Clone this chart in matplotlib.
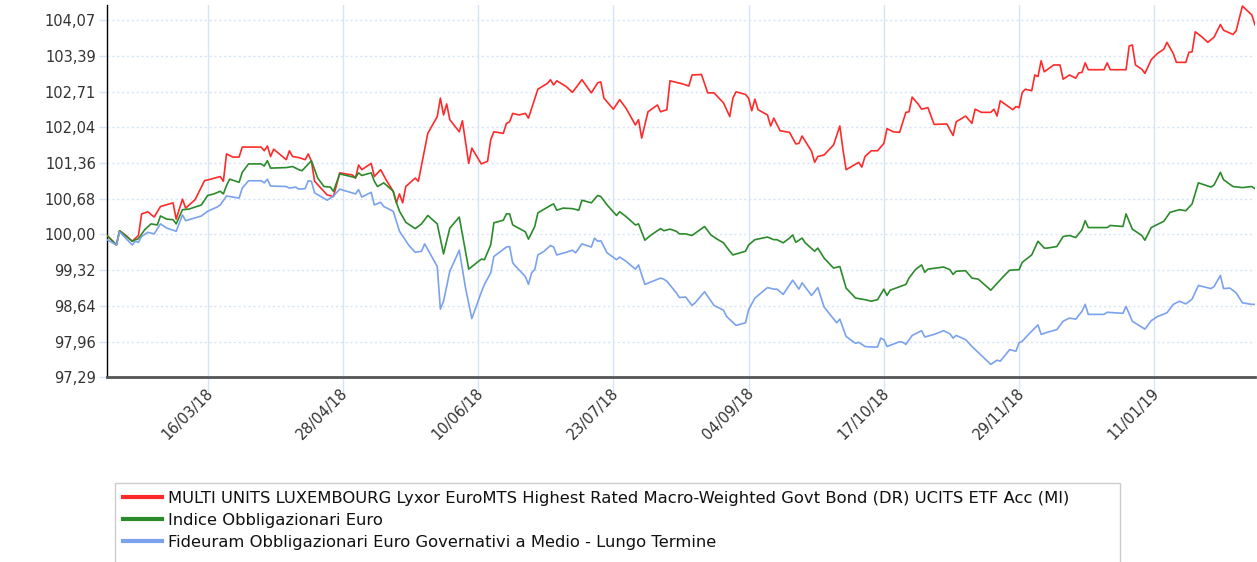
import pandas as pd
import matplotlib
matplotlib.use("Agg")
import matplotlib.pyplot as plt
import matplotlib.transforms as mtransforms
from matplotlib.lines import Line2D
from matplotlib.patches import Rectangle

start = pd.Timestamp("2018-02-12")
end = pd.Timestamp("2019-02-12")

labels = [
    "MULTI UNITS LUXEMBOURG Lyxor EuroMTS Highest Rated Macro-Weighted Govt Bond (DR) UCITS ETF Acc (MI)",
    "Indice Obbligazionari Euro",
    "Fideuram Obbligazionari Euro Governativi a Medio - Lungo Termine",
]
colors = ["#ff2a2a", "#2b8a2b", "#7aa2ee"]

# days from 12/02/2018
red_days = [0, 3, 4, 6, 8, 10, 11, 13, 15, 17,
            21, 22, 24, 25, 28, 31, 33, 36, 37, 38,
            40, 42, 43, 49, 50, 51, 52, 53, 57, 58,
            59, 61, 63, 64, 65, 66, 70, 72, 74, 78,
            79, 80, 81, 84, 85, 87, 89, 91, 92, 93,
            94, 95, 98, 99, 102, 105, 106, 107, 108, 109,
            112, 113, 115, 116, 119, 121, 122, 123, 126, 127,
            128, 129, 131, 133, 134, 137, 140, 141, 142, 143,
            146, 148, 151, 154, 156, 157, 158, 161, 163, 165,
            168, 169, 170, 172, 175, 176, 178, 179, 181, 183,
            185, 186, 189, 191, 193, 196, 197, 198, 199, 200,
            203, 204, 205, 206, 207, 210, 211, 212, 214, 217,
            219, 220, 221, 224, 225, 226, 228, 231, 233, 234,
            235, 239, 240, 241, 243, 245, 247, 248, 250, 252,
            254, 255, 256, 258, 259, 261, 263, 267, 269, 270,
            273, 275, 276, 278, 281, 282, 283, 284, 288, 289,
            290, 291, 292, 294, 295, 296, 297, 298, 301, 303,
            304, 306, 308, 309, 310, 311, 312, 317, 318, 319,
            324, 325, 326, 327, 329, 330, 332, 334, 336, 337,
            339, 340, 343, 344, 345, 346, 348, 350, 352, 354,
            355, 358, 359, 361, 364, 365]
red_vals = [99.98, 99.80, 100.07, 99.98, 99.87, 99.98, 100.39, 100.43, 100.33, 100.53,
            100.60, 100.29, 100.67, 100.50, 100.66, 101.02, 101.05, 101.10, 101.01, 101.53,
            101.47, 101.47, 101.66, 101.66, 101.59, 101.68, 101.48, 101.62, 101.42, 101.59,
            101.48, 101.46, 101.42, 101.53, 101.39, 101.01, 100.75, 100.72, 101.17, 101.13,
            101.07, 101.32, 101.23, 101.35, 101.10, 101.23, 101.01, 100.82, 100.60, 100.77,
            100.60, 100.91, 101.07, 101.01, 101.92, 102.24, 102.59, 102.27, 102.48, 102.18,
            101.95, 102.16, 101.35, 101.64, 101.34, 101.39, 101.80, 101.95, 101.92, 102.11,
            102.14, 102.30, 102.27, 102.30, 102.21, 102.76, 102.87, 102.94, 102.84, 102.92,
            102.81, 102.70, 102.94, 102.69, 102.88, 102.90, 102.59, 102.38, 102.56, 102.40,
            102.08, 102.18, 101.83, 102.33, 102.46, 102.33, 102.37, 102.92, 102.89, 102.86,
            102.82, 103.03, 103.04, 102.69, 102.69, 102.50, 102.37, 102.24, 102.59, 102.71,
            102.66, 102.59, 102.35, 102.57, 102.37, 102.27, 102.06, 102.21, 101.97, 101.94,
            101.72, 101.73, 101.87, 101.58, 101.37, 101.48, 101.51, 101.70, 102.06, 101.61,
            101.23, 101.37, 101.28, 101.48, 101.59, 101.59, 101.73, 102.01, 101.95, 101.94,
            102.32, 102.33, 102.61, 102.47, 102.38, 102.41, 102.09, 102.10, 101.88, 102.14,
            102.25, 102.11, 102.38, 102.32, 102.32, 102.38, 102.25, 102.54, 102.37, 102.43,
            102.41, 102.70, 102.76, 102.73, 103.03, 103.00, 103.30, 103.09, 103.22, 103.22,
            102.95, 103.03, 102.97, 103.07, 103.08, 103.26, 103.13, 103.13, 103.26, 103.13,
            103.13, 103.58, 103.60, 103.22, 103.14, 103.06, 103.32, 103.44, 103.52, 103.65,
            103.44, 103.27, 103.27, 103.46, 103.47, 103.85, 103.76, 103.65, 103.75, 103.99,
            103.88, 103.80, 103.87, 104.34, 104.17, 103.98]

green_days = [0, 3, 4, 8, 10, 12, 14, 16, 17, 19,
              21, 22, 24, 26, 30, 32, 34, 36, 37, 38,
              39, 42, 43, 45, 49, 50, 51, 52, 57, 59,
              61, 62, 65, 67, 69, 71, 72, 74, 79, 80,
              81, 84, 85, 86, 88, 91, 92, 93, 95, 98,
              100, 102, 105, 107, 109, 112, 115, 119, 120, 122,
              123, 126, 127, 128, 129, 133, 134, 136, 137, 141,
              142, 143, 145, 148, 150, 151, 154, 156, 157, 159,
              162, 163, 165, 168, 169, 171, 173, 176, 177, 179,
              181, 182, 184, 186, 190, 192, 194, 196, 198, 199,
              203, 204, 206, 210, 212, 213, 215, 217, 218, 219,
              221, 222, 225, 226, 228, 231, 233, 235, 238, 241,
              243, 245, 247, 248, 249, 254, 255, 257, 259, 260,
              261, 266, 268, 269, 270, 273, 275, 277, 281, 285,
              287, 290, 291, 294, 296, 298, 299, 302, 304, 306,
              308, 310, 311, 312, 318, 319, 323, 324, 326, 329,
              330, 332, 336, 338, 341, 343, 345, 347, 351, 352,
              354, 355, 358, 361, 364, 365]
green_vals = [99.98, 99.80, 100.07, 99.87, 99.92, 100.09, 100.20, 100.18, 100.35, 100.29,
              100.28, 100.20, 100.47, 100.48, 100.56, 100.74, 100.77, 100.82, 100.77, 100.93,
              101.05, 100.99, 101.18, 101.34, 101.34, 101.30, 101.40, 101.26, 101.27, 101.29,
              101.23, 101.21, 101.40, 101.07, 100.91, 100.90, 100.82, 101.15, 101.08, 101.17,
              101.12, 101.17, 101.01, 100.91, 100.98, 100.82, 100.61, 100.44, 100.23, 100.11,
              100.20, 100.36, 100.20, 99.63, 100.12, 100.33, 99.34, 99.53, 99.52, 99.80,
              100.22, 100.27, 100.39, 100.39, 100.18, 100.05, 99.91, 100.15, 100.41, 100.55,
              100.58, 100.46, 100.50, 100.49, 100.46, 100.65, 100.60, 100.74, 100.72, 100.56,
              100.36, 100.43, 100.34, 100.18, 100.20, 99.89, 99.99, 100.11, 100.07, 100.10,
              100.06, 100.01, 100.01, 99.98, 100.15, 99.99, 99.91, 99.84, 99.68, 99.61,
              99.68, 99.80, 99.90, 99.95, 99.90, 99.90, 99.84, 99.93, 99.99, 99.85,
              99.93, 99.84, 99.68, 99.74, 99.55, 99.36, 99.39, 98.98, 98.79, 98.76,
              98.73, 98.76, 98.96, 98.84, 98.94, 99.05, 99.17, 99.33, 99.42, 99.28,
              99.34, 99.38, 99.33, 99.24, 99.30, 99.31, 99.17, 99.15, 98.94, 99.20,
              99.32, 99.33, 99.47, 99.61, 99.87, 99.74, 99.74, 99.77, 99.96, 99.98,
              99.94, 100.09, 100.26, 100.13, 100.13, 100.17, 100.15, 100.39, 100.10, 99.98,
              99.89, 100.13, 100.25, 100.42, 100.47, 100.45, 100.58, 100.98, 100.90, 100.94,
              101.18, 101.04, 100.91, 100.89, 100.91, 100.87]

blue_days = [0, 3, 4, 8, 9, 10, 11, 13, 15, 17,
             19, 22, 24, 25, 30, 32, 35, 36, 38, 39,
             42, 43, 45, 49, 50, 51, 52, 57, 58, 60,
             61, 63, 64, 65, 66, 70, 72, 74, 79, 80,
             81, 84, 85, 87, 88, 91, 92, 93, 96, 98,
             100, 101, 105, 106, 107, 109, 112, 114, 116, 119,
             120, 122, 123, 127, 128, 129, 130, 133, 134, 135,
             136, 137, 139, 141, 142, 143, 146, 148, 149, 151,
             154, 155, 156, 157, 159, 162, 163, 165, 168, 169,
             171, 176, 177, 178, 181, 182, 184, 186, 187, 190,
             193, 196, 197, 200, 203, 204, 206, 210, 212, 213,
             215, 218, 220, 221, 224, 226, 228, 232, 233, 235,
             238, 239, 241, 243, 245, 246, 247, 248, 252, 253,
             254, 256, 259, 260, 263, 266, 268, 269, 270, 273,
             275, 281, 283, 284, 287, 289, 290, 291, 293, 296,
             297, 299, 302, 304, 306, 308, 310, 311, 312, 317,
             318, 323, 324, 326, 330, 332, 334, 337, 339, 341,
             343, 345, 347, 351, 352, 354, 355, 357, 359, 361,
             364, 365]
blue_vals = [99.90, 99.80, 100.05, 99.80, 99.87, 99.85, 99.96, 100.04, 100.01, 100.20,
             100.12, 100.06, 100.37, 100.26, 100.35, 100.44, 100.52, 100.56, 100.73, 100.72,
             100.69, 100.88, 101.02, 101.02, 100.98, 101.05, 100.92, 100.91, 100.88, 100.90,
             100.86, 100.87, 101.02, 101.01, 100.79, 100.65, 100.73, 100.86, 100.77, 100.85,
             100.71, 100.80, 100.56, 100.61, 100.53, 100.44, 100.25, 100.06, 99.79, 99.66,
             99.68, 99.82, 99.39, 98.58, 98.73, 99.30, 99.70, 98.98, 98.40, 98.90,
             99.05, 99.27, 99.58, 99.76, 99.77, 99.46, 99.39, 99.20, 99.05, 99.27,
             99.33, 99.61, 99.68, 99.79, 99.76, 99.61, 99.66, 99.70, 99.65, 99.82,
             99.76, 99.93, 99.87, 99.88, 99.65, 99.52, 99.57, 99.49, 99.34, 99.42,
             99.05, 99.17, 99.15, 99.11, 98.89, 98.80, 98.81, 98.65, 98.70, 98.91,
             98.65, 98.56, 98.44, 98.27, 98.32, 98.57, 98.79, 98.99, 98.96, 98.96,
             98.86, 99.13, 98.96, 99.08, 98.84, 98.99, 98.62, 98.32, 98.39, 98.06,
             97.93, 97.95, 97.87, 97.86, 97.86, 98.03, 98.00, 97.87, 97.96, 97.95,
             97.91, 98.08, 98.17, 98.05, 98.10, 98.17, 98.11, 98.03, 98.08, 98.00,
             97.87, 97.53, 97.61, 97.59, 97.81, 97.78, 97.94, 97.97, 98.10, 98.28,
             98.10, 98.14, 98.19, 98.35, 98.41, 98.39, 98.54, 98.67, 98.48, 98.48,
             98.52, 98.50, 98.63, 98.35, 98.20, 98.36, 98.44, 98.51, 98.67, 98.73,
             98.68, 98.77, 99.03, 98.97, 99.01, 99.22, 98.97, 98.98, 98.89, 98.70,
             98.67, 98.67]

y_ticks = [97.29, 97.96, 98.64, 99.32, 100.00, 100.68, 101.36, 102.04, 102.71, 103.39, 104.07]
x_ticks = pd.date_range("2018-03-16", periods=8, freq="43D")

grid_col = "#d6e4f5"
text_col = "#333333"

fig = plt.figure(figsize=(12.57, 5.62), dpi=100)
ax = fig.add_axes([107 / 1257, 1 - 377 / 562, 1148 / 1257, 372 / 562])

series = [(red_days, red_vals), (green_days, green_vals), (blue_days, blue_vals)]
for (days, vals), col, lab in zip(series, colors, labels):
    dates = start + pd.to_timedelta(days, unit="D")
    ax.plot(dates, vals, color=col, lw=1.2, label=lab, zorder=3)

ax.set_xlim(start, end)
ax.set_ylim(97.29, 104.36)

ax.set_yticks(y_ticks)
ax.set_yticklabels([f"{v:.2f}".replace(".", ",") for v in y_ticks])
ax.set_xticks(x_ticks)
ax.set_xticklabels([d.strftime("%d/%m/%y") for d in x_ticks])

ax.yaxis.grid(True, color=grid_col, linestyle=(0, (1.5, 2)), lw=1)
ax.xaxis.grid(True, color=grid_col, linestyle="-", lw=1)
ax.set_axisbelow(True)

for s in ["top", "right"]:
    ax.spines[s].set_visible(False)
ax.spines["left"].set_color("black")
ax.spines["left"].set_linewidth(1)
ax.spines["bottom"].set_color("#555555")
ax.spines["bottom"].set_linewidth(2)

ax.tick_params(axis="x", length=13, width=1, color=grid_col, pad=-3,
               labelsize=10.5, labelcolor=text_col)
ax.tick_params(axis="y", length=6, width=1, color=grid_col, pad=2,
               labelsize=10.5, labelcolor=text_col)

offset = mtransforms.ScaledTranslation(2 / 72, 0, fig.dpi_scale_trans)
for lbl in ax.get_xticklabels():
    lbl.set_rotation(45)
    lbl.set_ha("right")
    lbl.set_va("center")
    lbl.set_rotation_mode("anchor")
    lbl.set_transform(lbl.get_transform() + offset)

# legend box
fig.patches.append(Rectangle((115 / 1257, -0.05), 1005 / 1257, 0.05 + 1 - 483 / 562,
                             transform=fig.transFigure, fill=False,
                             edgecolor="#cccccc", lw=1))
handles = [Line2D([], [], color=c, lw=3) for c in colors]
fig.legend(handles, labels, loc="upper left", bbox_to_anchor=(110 / 1257, 1 - 478 / 562),
           frameon=False, fontsize=11.8, handlelength=2.4, handletextpad=0.35,
           labelspacing=0.42, borderpad=0.3, labelcolor="#111111")

fig.savefig("out.png", dpi=100)
